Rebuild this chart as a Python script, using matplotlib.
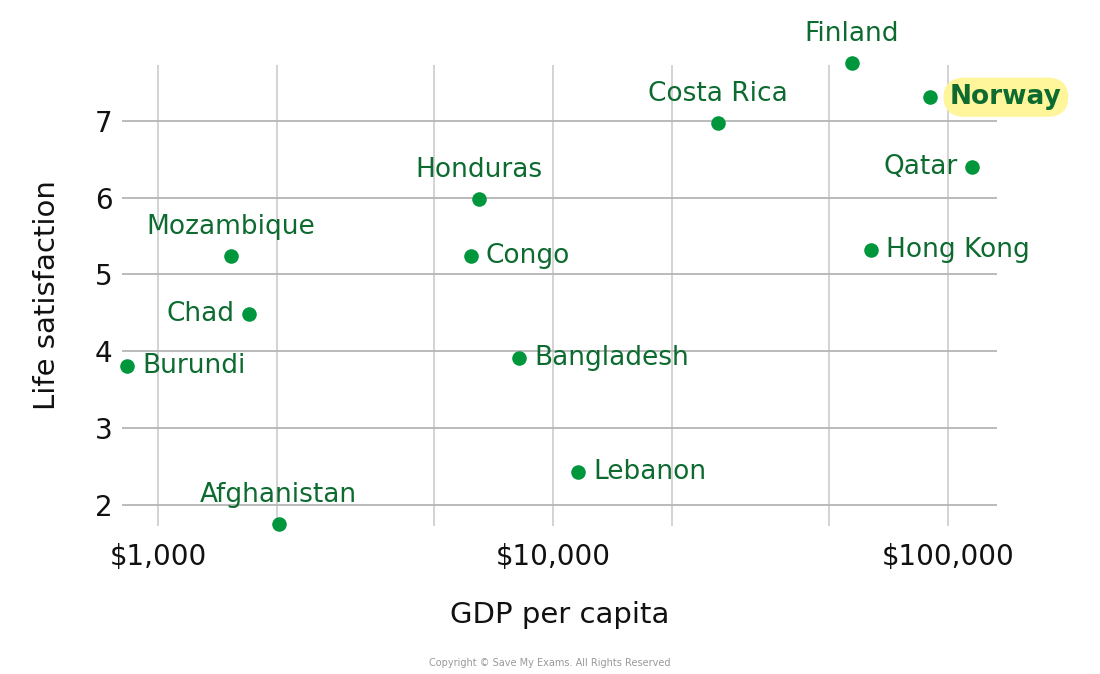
import matplotlib
matplotlib.use("Agg")
import matplotlib.pyplot as plt
from matplotlib.ticker import FixedLocator, NullFormatter, NullLocator

countries = ["Burundi", "Mozambique", "Chad", "Afghanistan", "Honduras", "Congo",
             "Bangladesh", "Lebanon", "Costa Rica", "Finland", "Norway", "Qatar", "Hong Kong"]
gdp = [835, 1530, 1700, 2020, 6500, 6200, 8200, 11600, 26200, 57000, 90000, 115000, 64000]
life = [3.80, 5.24, 4.48, 1.74, 5.98, 5.24, 3.91, 2.42, 6.97, 7.76, 7.31, 6.40, 5.32]
# label placement: 'above', 'right', 'left'
placement = ["right", "above", "left", "above", "above", "right",
             "right", "right", "above", "above", "right", "left", "right"]

x_ticks = [1000, 10000, 100000]
x_tick_labels = ["$1,000", "$10,000", "$100,000"]
x_grid = [1000, 2000, 5000, 10000, 20000, 50000, 100000]
y_ticks = [2, 3, 4, 5, 6, 7]

plt.rcParams['font.family'] = ['DejaVu Sans']

DOT = "#00963c"
TXT = "#0d6b30"

fig = plt.figure(figsize=(11, 6.74), dpi=100)
ax = fig.add_axes([122/1100, 1 - 526/674, (997-122)/1100, (526-65)/674])
ax.set_xscale("log")
ax.set_xlim(811, 133000)
ax.set_ylim(1.72, 7.73)

for s in ax.spines.values():
    s.set_visible(False)

for g in x_grid:
    ax.axvline(g, color="#d0d0d0", lw=1.3, zorder=1)
for t in y_ticks:
    ax.axhline(t, color="#b5b5b5", lw=1.3, zorder=1)

ax.xaxis.set_major_locator(FixedLocator(x_ticks))
ax.set_xticklabels(x_tick_labels)
ax.xaxis.set_minor_locator(NullLocator())
ax.xaxis.set_minor_formatter(NullFormatter())
ax.set_yticks(y_ticks)
ax.tick_params(axis="both", length=0, labelsize=20, colors="#111111")
ax.tick_params(axis="x", pad=12)
ax.tick_params(axis="y", pad=7)

ax.set_xlabel("GDP per capita", fontsize=21, labelpad=22, color="#111111")
ax.set_ylabel("Life satisfaction", fontsize=21, labelpad=24, color="#111111")

ax.scatter(gdp, life, s=110, color=DOT, zorder=3, clip_on=False, linewidths=0)

for name, x, y, p in zip(countries, gdp, life, placement):
    kw = dict(fontsize=19, color=TXT, zorder=4, annotation_clip=False,
              textcoords="offset pixels", va="center")
    if p == "above":
        ax.annotate(name, (x, y), xytext=(0, 29), ha="center", **kw)
    elif p == "right":
        if name == "Norway":
            ax.annotate(name, (x, y), xytext=(20, 0), ha="left", fontweight="bold",
                        bbox=dict(boxstyle="round,pad=0.25,rounding_size=0.8",
                                  fc="#fff59a", ec="none"), **kw)
        else:
            ax.annotate(name, (x, y), xytext=(15, 0), ha="left", **kw)
    else:
        ax.annotate(name, (x, y), xytext=(-14, 0), ha="right", **kw)

fig.text(0.5, 0.016, "Copyright © Save My Exams. All Rights Reserved", fontsize=7,
         color="#999999", ha="center", va="center")

fig.savefig("out.png", dpi=100)
